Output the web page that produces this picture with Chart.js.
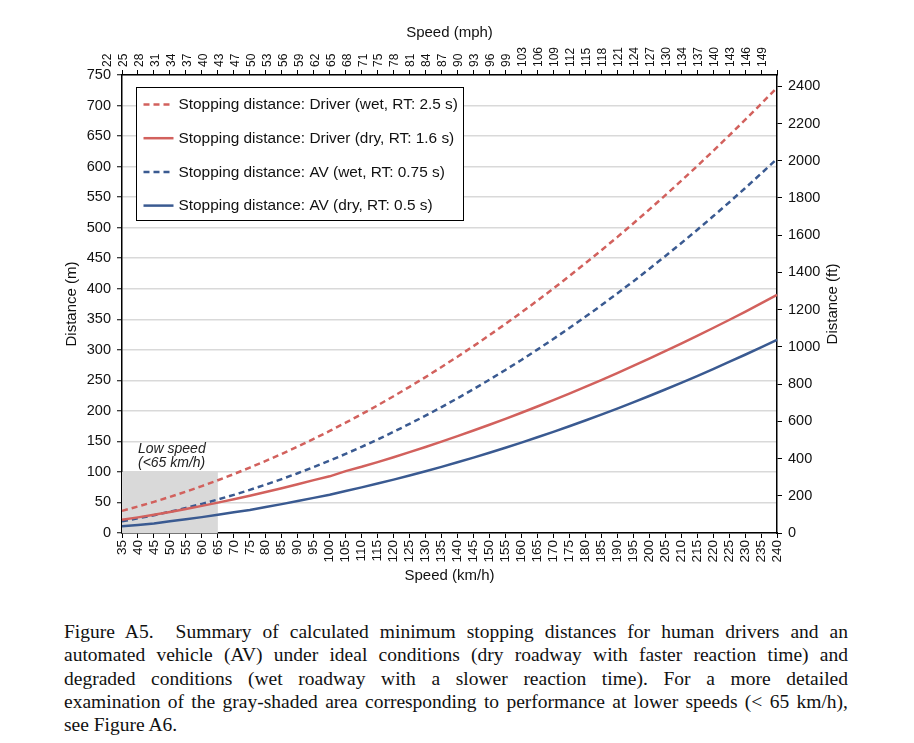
<!DOCTYPE html>
<html>
<head>
<meta charset="utf-8">
<script src="https://cdn.jsdelivr.net/npm/chart.js@4.4.0/dist/chart.umd.min.js"></script>
<style>
  html, body { margin: 0; padding: 0; background: #fff; }
  body { width: 914px; height: 743px; position: relative; overflow: hidden; }
  #wrap { position: absolute; left: 0; top: 0; width: 914px; height: 600px; }
  #cap { position: absolute; left: 64px; top: 620px; width: 784px;
         font-family: "Liberation Serif", "Times New Roman", serif; font-size: 19.5px;
         line-height: 23.3px; color: #111; }
  #cap .j { text-align: justify; text-align-last: justify; }
  #cap .l { text-align: left; }
</style>
</head>
<body>
<div id="wrap"><canvas id="c"></canvas></div>
<div id="cap">
  <div class="j">Figure A5.&nbsp; Summary of calculated minimum stopping distances for human drivers and an</div>
  <div class="j">automated vehicle (AV) under ideal conditions (dry roadway with faster reaction time) and</div>
  <div class="j">degraded conditions (wet roadway with a slower reaction time). For a more detailed</div>
  <div class="j">examination of the gray-shaded area corresponding to performance at lower speeds (&lt; 65 km/h),</div>
  <div class="l">see Figure A6.</div>
</div>
<script>
// ---- data ----
const speedKmh = [35,40,45,50,55,60,65,70,75,80,85,90,95,100,105,110,115,120,125,130,135,140,145,150,155,160,165,170,175,180,185,190,195,200,205,210,215,220,225,230,235,240];
const speedMph = ['22','25','28','31','34','37','40','43','47','50','53','56','59','62','65','68','71','75','78','81','84','87','90','93','96','99','103','106','109','112','115','118','121','124','127','130','134','137','140','143','146','149'];

const driverWet = [36.3,43.4,51.0,59.1,67.7,76.8,86.4,96.5,107.0,118.1,129.6,141.6,154.1,167.1,180.6,194.6,209.0,224.0,239.4,255.3,271.8,288.7,306.0,323.9,342.3,361.2,380.5,400.3,420.7,441.5,462.8,484.5,506.8,529.6,552.8,576.6,600.8,625.5,650.7,676.4,702.6,729.3];
const driverDry = [21.6,25.6,30.0,34.5,39.3,44.4,49.7,55.2,61.0,67.0,73.3,79.8,86.6,92.8,101.4,108.4,116.1,124.1,132.4,140.8,149.6,158.6,167.8,177.3,187.0,196.9,207.1,217.6,228.3,239.2,250.4,261.9,273.6,285.5,297.7,310.1,322.7,335.7,348.8,362.2,375.9,389.8];
const avWet     = [19.3,24.0,29.2,34.8,41.0,47.7,54.8,62.4,70.6,79.2,88.3,97.9,107.9,118.5,129.6,141.1,153.1,165.7,178.7,192.1,206.1,220.6,235.6,251.0,267.0,283.4,300.3,317.7,335.6,354.0,372.8,392.2,412.0,432.4,453.2,474.5,496.3,518.6,541.3,564.6,588.4,612.6];
const avDry     = [10.9,13.2,15.6,19.2,22.5,26.0,29.8,33.8,37.8,42.6,47.3,52.3,57.5,62.6,68.8,74.7,81.0,87.4,94.2,101.1,108.3,115.8,123.5,131.4,139.6,148.0,156.7,165.6,174.8,184.2,193.9,203.8,214.0,224.4,235.0,245.9,257.0,268.4,280.1,291.9,304.1,316.4];

const seriesLabels = [
  'Stopping distance: Driver (wet, RT: 2.5 s)',
  'Stopping distance: Driver (dry, RT: 1.6 s)',
  'Stopping distance: AV (wet, RT: 0.75 s)',
  'Stopping distance: AV (dry, RT: 0.5 s)'
];

const yMetersMax = 750;
const metersToFeet = 3.28084;
const lowSpeedRange = [35, 65];   // km/h
const lowSpeedMaxDist = 100;      // m
const lowSpeedText = ['Low speed', '(<65 km/h)'];
const lowSpeedTextAtKmh = 40;

// ---- styles ----
const FONT = "'Liberation Sans', Arial, Helvetica, sans-serif";
const RED = '#d2615d';
const BLUE = '#3a5a91';
const TXT = '#111';

const shadePlugin = {
  id: 'shade',
  beforeDatasetsDraw(chart) {
    const { ctx, scales: { x, y } } = chart;
    const x0 = x.getPixelForValue(speedKmh.indexOf(lowSpeedRange[0]));
    const x1 = x.getPixelForValue(speedKmh.indexOf(lowSpeedRange[1]));
    const y0 = y.getPixelForValue(0);
    const y1 = y.getPixelForValue(lowSpeedMaxDist);
    ctx.save();
    ctx.fillStyle = '#d9d9d9';
    ctx.fillRect(x0, y1, x1 - x0, y0 - y1);
    ctx.fillStyle = '#222';
    ctx.font = 'italic 14px ' + FONT;
    ctx.textAlign = 'left';
    ctx.textBaseline = 'middle';
    const tx = x.getPixelForValue(speedKmh.indexOf(lowSpeedTextAtKmh));
    ctx.fillText(lowSpeedText[0], tx, y1 - 23);
    ctx.fillText(lowSpeedText[1], tx, y1 - 9);
    ctx.restore();
  }
};

const legendPlugin = {
  id: 'boxLegend',
  afterDatasetsDraw(chart) {
    const { ctx, chartArea } = chart;
    const ds = chart.data.datasets;
    ctx.save();
    ctx.font = '15.4px ' + FONT;
    let maxW = 0;
    ds.forEach(d => { maxW = Math.max(maxW, ctx.measureText(d.label).width); });
    const bx = chartArea.left + 14.5, by = chartArea.top + 12.5;
    const bw = Math.round(maxW + 48), bh = 133;
    ctx.fillStyle = '#fff';
    ctx.fillRect(bx, by, bw, bh);
    ctx.strokeStyle = '#000';
    ctx.lineWidth = 1;
    ctx.strokeRect(bx, by, bw, bh);
    ds.forEach((d, i) => {
      const cy = by + 17 + i * 33.7;
      ctx.beginPath();
      ctx.setLineDash(d.borderDash || []);
      ctx.strokeStyle = d.borderColor;
      ctx.lineWidth = d.borderWidth;
      ctx.moveTo(bx + 7, cy);
      ctx.lineTo(bx + 37, cy);
      ctx.stroke();
      ctx.setLineDash([]);
      ctx.fillStyle = TXT;
      ctx.textAlign = 'left';
      ctx.textBaseline = 'middle';
      ctx.fillText(d.label, bx + 42, cy + 0.5);
    });
    ctx.restore();
  },
  afterDraw(chart) {
    const { ctx, chartArea } = chart;
    ctx.save();
    ctx.translate(chartArea.right + 56, (chartArea.top + chartArea.bottom) / 2);
    ctx.rotate(-Math.PI / 2);
    ctx.font = '15px ' + FONT;
    ctx.fillStyle = TXT;
    ctx.textAlign = 'center';
    ctx.textBaseline = 'middle';
    ctx.fillText('Distance (ft)', 0, 0);
    ctx.restore();
  }
};

function mkDs(label, data, color, dashed) {
  return {
    label, data,
    borderColor: color, backgroundColor: color,
    borderWidth: 2.5,
    borderDash: dashed ? [6, 4] : [],
    pointRadius: 0, pointHoverRadius: 0,
    tension: 0, fill: false,
    xAxisID: 'x', yAxisID: 'y'
  };
}

const axisBorder = { display: true, color: '#000', width: 1.5 };

new Chart(document.getElementById('c'), {
  type: 'line',
  data: {
    labels: speedKmh.map(String),
    datasets: [
      mkDs(seriesLabels[0], driverWet, RED, true),
      mkDs(seriesLabels[1], driverDry, RED, false),
      mkDs(seriesLabels[2], avWet, BLUE, true),
      mkDs(seriesLabels[3], avDry, BLUE, false)
    ]
  },
  options: {
    responsive: true,
    maintainAspectRatio: false,
    animation: false,
    devicePixelRatio: 1,
    layout: { padding: { left: 59, right: 0, top: 20, bottom: 11 } },
    plugins: { legend: { display: false }, tooltip: { enabled: false } },
    scales: {
      x: {
        type: 'category', position: 'bottom', offset: false,
        grid: { display: true, drawOnChartArea: false, drawTicks: true, tickLength: 5, tickColor: '#000', tickWidth: 1 },
        border: axisBorder,
        ticks: { autoSkip: false, minRotation: 90, maxRotation: 90, padding: 2, color: TXT, font: { family: FONT, size: 13.5 } },
        title: { display: true, text: 'Speed (km/h)', color: TXT, font: { family: FONT, size: 15 }, padding: { top: 4, bottom: 4 } },
        afterFit(s) { s.height = 56; }
      },
      x2: {
        type: 'category', position: 'top', offset: false, labels: speedMph,
        grid: { display: true, drawOnChartArea: false, drawTicks: true, tickLength: 5, tickColor: '#000', tickWidth: 1 },
        border: axisBorder,
        ticks: { autoSkip: false, minRotation: 90, maxRotation: 90, padding: 3, color: TXT, font: { family: FONT, size: 12 } },
        title: { display: true, text: 'Speed (mph)', color: TXT, font: { family: FONT, size: 15 }, padding: { top: 4, bottom: 4 } },
        afterFit(s) { s.height = 55; }
      },
      y: {
        position: 'left', min: 0, max: yMetersMax,
        grid: { color: '#d9d9d9', lineWidth: 1.5, drawTicks: true, tickLength: 5, tickColor: '#000', tickWidth: 1 },
        border: axisBorder,
        ticks: { stepSize: 50, padding: 6, color: TXT, font: { family: FONT, size: 14.5 }, callback: v => String(v) },
        title: { display: true, text: 'Distance (m)', color: TXT, font: { family: FONT, size: 15 }, padding: { top: 4, bottom: 4 } },
        afterFit(s) { s.width = 63; }
      },
      y2: {
        position: 'right', min: 0, max: yMetersMax * metersToFeet,
        grid: { display: true, drawOnChartArea: false, drawTicks: true, tickLength: 5, tickColor: '#000', tickWidth: 1 },
        border: axisBorder,
        ticks: { stepSize: 200, includeBounds: false, padding: 6, color: TXT, font: { family: FONT, size: 14.5 }, callback: v => String(v) },
        afterFit(s) { s.width = 137; }
      }
    }
  },
  plugins: [shadePlugin, legendPlugin]
});
</script>
</body>
</html>
